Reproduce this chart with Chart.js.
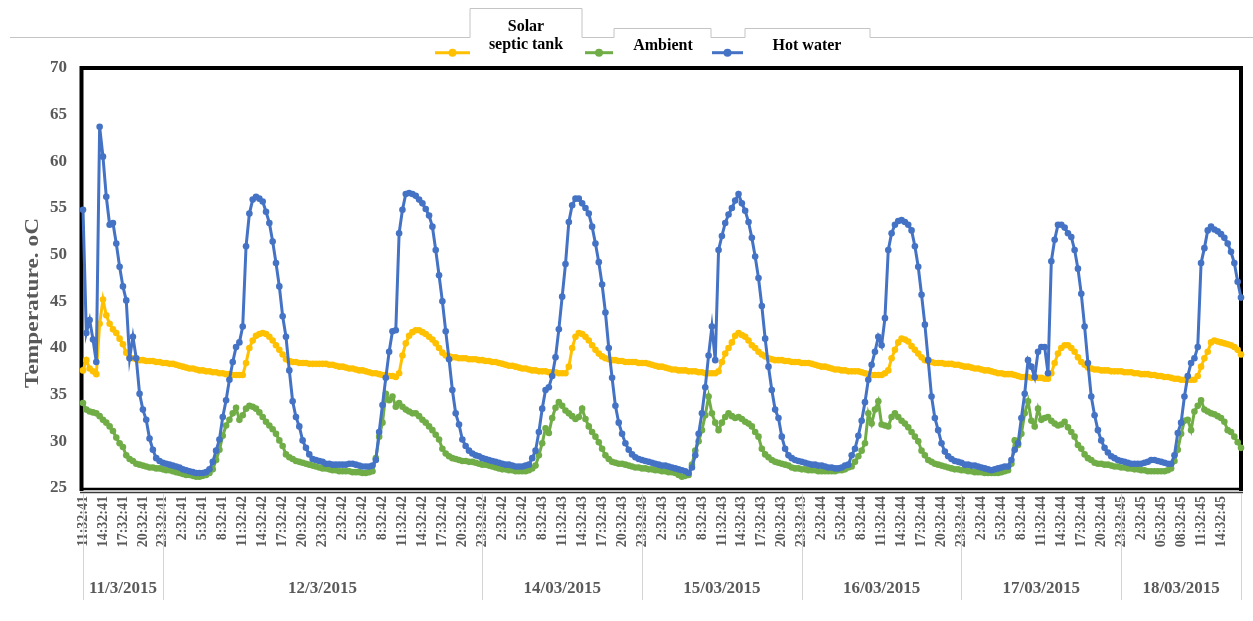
<!DOCTYPE html>
<html><head><meta charset="utf-8">
<script src="https://cdn.jsdelivr.net/npm/chart.js@4.4.1/dist/chart.umd.min.js"></script>
<style>html,body{margin:0;padding:0;background:#fff;}canvas{display:block;}</style>
</head><body>
<canvas id="c" width="1253" height="621"></canvas>
<script>
const seriesNames = ['Solar septic tank', 'Ambient', 'Hot water'];
const yAxisTitle = 'Temperature. oC';
const tickLabels = [
 '11:32:41','14:32:41','17:32:41','20:32:41','23:32:41','2:32:41','5:32:41','8:32:41',
 '11:32:42','14:32:42','17:32:42','20:32:42','23:32:42','2:32:42','5:32:42','8:32:42',
 '11:32:42','14:32:42','17:32:42','20:32:42','23:32:42','2:32:42','5:32:42','8:32:43',
 '11:32:43','14:32:43','17:32:43','20:32:43','23:32:43','2:32:43','5:32:43','8:32:43',
 '11:32:43','14:32:43','17:32:43','20:32:43','23:32:43','2:32:44','5:32:44','8:32:44',
 '11:32:44','14:32:44','17:32:44','20:32:44','23:32:44','2:32:44','5:32:44','8:32:44',
 '11:32:44','14:32:44','17:32:44','20:32:44','23:32:45','2:32:45','05:32:45','08:32:45',
 '11:32:45','14:32:45'
];
const dateLabels = ['11/3/2015','12/3/2015','14/03/2015','15/03/2015','16/03/2015','17/03/2015','18/03/2015'];
const dateBreaks = [0, 24, 120, 168, 216, 264, 312, 348]; // sample index where each date group starts/ends

const solarTank = [
 37.6,38.7,37.8,37.5,37.2,42.6,45.2,43.5,42.6,42.0,41.6,41.0,
 40.4,39.5,39.0,38.9,38.8,38.7,38.7,38.6,38.6,38.6,38.5,38.5,
 38.4,38.4,38.3,38.3,38.2,38.1,38.0,37.9,37.8,37.8,37.7,37.6,
 37.6,37.5,37.5,37.4,37.4,37.3,37.3,37.2,37.2,37.1,37.1,37.1,
 37.1,38.4,40.0,40.8,41.3,41.5,41.6,41.5,41.2,40.8,40.3,39.8,
 39.3,38.8,38.6,38.5,38.5,38.4,38.4,38.4,38.3,38.3,38.3,38.3,
 38.3,38.3,38.2,38.2,38.1,38.0,38.0,37.9,37.8,37.8,37.7,37.6,
 37.6,37.5,37.4,37.3,37.3,37.2,37.1,37.1,37.0,37.0,36.9,37.3,
 39.2,40.5,41.3,41.7,41.9,41.9,41.7,41.5,41.2,40.9,40.5,40.0,
 39.5,39.2,39.1,39.0,39.0,38.9,38.9,38.9,38.8,38.8,38.8,38.7,
 38.7,38.6,38.6,38.5,38.5,38.4,38.3,38.2,38.1,38.1,38.0,37.9,
 37.8,37.8,37.7,37.6,37.6,37.5,37.5,37.5,37.4,37.4,37.4,37.3,
 37.3,37.3,38.0,40.0,41.2,41.6,41.5,41.2,40.8,40.3,39.8,39.4,
 39.1,38.9,38.8,38.7,38.7,38.6,38.6,38.5,38.5,38.5,38.5,38.4,
 38.4,38.4,38.3,38.2,38.1,38.0,38.0,37.9,37.8,37.7,37.7,37.6,
 37.6,37.6,37.5,37.5,37.5,37.4,37.4,37.3,37.3,37.3,37.3,37.5,
 38.5,39.4,40.0,40.6,41.3,41.6,41.4,41.2,40.8,40.3,40.0,39.6,
 39.3,39.1,38.9,38.8,38.7,38.7,38.7,38.6,38.6,38.5,38.5,38.5,
 38.4,38.4,38.4,38.3,38.2,38.1,38.0,38.0,37.9,37.8,37.7,37.7,
 37.6,37.6,37.5,37.5,37.5,37.5,37.4,37.3,37.2,37.1,37.1,37.1,
 37.1,37.3,37.6,38.9,39.8,40.6,41.0,40.9,40.7,40.2,39.8,39.4,
 39.0,38.7,38.6,38.5,38.4,38.4,38.4,38.3,38.3,38.3,38.2,38.2,
 38.1,38.0,38.0,37.9,37.8,37.8,37.7,37.6,37.6,37.5,37.4,37.3,
 37.3,37.2,37.2,37.2,37.1,37.0,36.9,36.9,36.9,36.8,36.8,36.8,
 36.8,36.7,36.7,37.3,38.4,39.4,40.0,40.3,40.3,40.0,39.6,39.0,
 38.5,38.2,37.9,37.8,37.7,37.7,37.6,37.6,37.6,37.5,37.5,37.5,
 37.5,37.4,37.4,37.4,37.3,37.3,37.2,37.2,37.2,37.1,37.1,37.0,
 37.0,36.9,36.9,36.8,36.7,36.7,36.6,36.6,36.6,36.6,36.6,37.0,
 38.0,38.9,39.6,40.6,40.8,40.7,40.6,40.5,40.4,40.3,40.1,39.8,
 39.3
];
const ambient = [
 34.1,33.4,33.2,33.1,33.0,32.7,32.3,32.0,31.6,31.1,30.4,29.8,
 29.4,28.5,28.1,27.9,27.6,27.5,27.4,27.3,27.2,27.2,27.1,27.1,
 27.0,26.9,26.9,26.8,26.7,26.6,26.5,26.4,26.4,26.3,26.2,26.2,
 26.3,26.4,26.6,27.0,28.0,29.1,30.6,31.7,32.3,33.0,33.6,32.3,
 32.8,33.5,33.8,33.7,33.5,33.1,32.6,32.1,31.7,31.3,30.8,30.1,
 29.5,28.6,28.3,28.1,27.9,27.8,27.7,27.6,27.5,27.4,27.3,27.2,
 27.1,27.1,27.0,26.9,26.9,26.8,26.8,26.8,26.8,26.7,26.7,26.7,
 26.6,26.6,26.7,26.8,28.2,30.5,32.0,35.1,34.4,34.8,33.7,34.1,
 33.7,33.4,33.2,33.0,33.0,32.7,32.3,32.0,31.6,31.2,30.7,30.2,
 29.2,28.7,28.4,28.2,28.1,28.0,27.9,27.9,27.8,27.8,27.7,27.6,
 27.5,27.5,27.4,27.3,27.2,27.1,27.0,27.0,26.9,26.9,26.8,26.8,
 26.8,26.8,26.9,27.1,27.4,28.5,29.8,31.4,30.9,32.5,33.6,34.2,
 33.8,33.3,33.0,32.7,32.4,32.6,33.5,32.4,31.6,31.0,30.5,29.9,
 29.2,28.5,28.1,27.8,27.7,27.6,27.6,27.5,27.4,27.3,27.2,27.2,
 27.1,27.1,27.0,27.0,26.9,26.9,26.8,26.8,26.7,26.7,26.6,26.4,
 26.2,26.3,26.4,27.5,29.0,30.0,31.2,32.8,34.8,33.0,32.0,31.2,
 32.0,32.6,33.0,32.7,32.5,32.6,32.4,32.1,31.9,31.6,31.0,30.5,
 29.2,28.6,28.3,28.0,27.8,27.7,27.6,27.5,27.4,27.2,27.1,27.1,
 27.0,27.0,26.9,26.9,26.9,26.8,26.8,26.8,26.8,26.8,26.8,26.9,
 26.9,27.0,27.2,27.3,27.8,28.4,29.0,29.8,33.0,31.9,33.4,34.3,
 31.8,31.7,31.6,32.6,33.0,32.6,32.2,31.9,31.5,31.0,30.5,30.0,
 29.0,28.5,28.0,27.8,27.6,27.5,27.4,27.3,27.2,27.1,27.0,27.0,
 26.9,26.9,26.8,26.8,26.7,26.7,26.7,26.6,26.6,26.6,26.6,26.6,
 26.7,26.8,26.9,27.6,30.1,29.6,30.8,33.0,34.3,32.2,31.6,33.5,
 32.3,32.5,32.6,32.2,31.9,31.7,31.8,32.1,31.5,31.0,30.5,29.6,
 29.2,28.6,28.2,28.0,27.7,27.6,27.6,27.5,27.5,27.4,27.3,27.3,
 27.2,27.2,27.1,27.1,27.0,27.0,26.9,26.9,26.8,26.8,26.8,26.8,
 26.8,26.8,26.9,27.1,27.9,29.1,30.8,32.2,32.3,31.2,33.2,33.8,
 34.4,33.4,33.2,33.0,32.9,32.7,32.5,32.1,31.2,31.0,30.5,29.9,
 29.3
];
const hotWater = [
 54.8,41.6,43.0,40.9,38.5,63.7,60.5,56.2,53.2,53.4,51.2,48.7,
 46.6,45.1,38.9,41.2,38.9,35.1,33.4,32.3,30.3,29.1,28.2,27.9,
 27.7,27.6,27.5,27.4,27.3,27.2,27.0,26.9,26.8,26.7,26.6,26.6,
 26.6,26.7,27.0,27.8,29.0,30.2,32.6,34.4,36.6,38.5,40.1,40.6,
 42.3,50.9,54.4,55.9,56.2,56.0,55.7,54.6,53.4,51.4,49.1,46.6,
 43.4,41.2,37.6,34.3,32.6,31.6,30.1,29.3,28.6,28.1,28.0,27.9,
 27.8,27.6,27.6,27.5,27.5,27.5,27.5,27.5,27.6,27.6,27.5,27.4,
 27.3,27.3,27.3,27.4,28.0,31.0,33.9,36.8,39.6,41.8,41.9,52.3,
 54.8,56.5,56.6,56.5,56.3,55.9,55.5,54.9,54.2,53.0,50.5,47.8,
 45.0,41.8,38.8,35.5,33.0,31.8,30.2,29.5,29.0,28.7,28.5,28.4,
 28.2,28.1,28.0,27.9,27.8,27.7,27.6,27.5,27.5,27.4,27.3,27.3,
 27.3,27.4,27.5,28.2,29.0,31.0,33.5,35.5,35.8,37.0,39.0,42.0,
 45.5,49.0,53.5,55.3,56.0,56.0,55.5,55.0,54.4,53.0,51.2,49.2,
 46.8,43.8,40.0,36.8,33.8,32.0,30.8,29.8,29.1,28.6,28.3,28.1,
 28.0,27.9,27.8,27.7,27.6,27.5,27.4,27.4,27.3,27.2,27.1,27.0,
 26.9,26.8,26.6,27.2,28.5,30.8,33.0,35.8,39.2,42.3,38.7,50.5,
 52.0,53.4,54.3,55.0,55.8,56.5,55.5,54.7,53.5,51.8,49.8,47.5,
 44.5,41.0,38.0,35.5,33.4,32.5,30.5,29.2,28.5,28.2,28.0,27.9,
 27.8,27.7,27.6,27.5,27.5,27.4,27.4,27.3,27.2,27.2,27.1,27.1,
 27.2,27.4,27.5,28.5,29.2,30.6,32.2,34.2,36.6,38.2,39.6,41.2,
 40.3,43.2,50.5,52.3,53.2,53.6,53.7,53.5,53.2,52.6,50.9,48.7,
 45.7,42.5,38.7,34.8,32.5,31.2,29.8,28.9,28.4,28.1,27.9,27.8,
 27.7,27.5,27.5,27.4,27.4,27.3,27.2,27.1,27.0,26.9,27.0,27.1,
 27.2,27.3,27.3,28.0,29.1,29.8,32.5,35.1,38.7,38.0,36.9,39.6,
 40.1,40.1,37.3,49.3,51.6,53.2,53.2,52.9,52.3,51.9,50.5,48.5,
 45.8,42.3,38.4,34.8,32.8,31.2,30.1,29.3,28.8,28.4,28.2,28.0,
 27.9,27.8,27.7,27.6,27.6,27.6,27.6,27.7,27.8,28.0,28.0,27.9,
 27.8,27.7,27.6,27.6,28.5,30.9,32.0,34.8,37.0,38.4,38.9,40.1,
 49.1,50.7,52.6,53.0,52.7,52.5,52.2,51.8,51.2,50.3,49.1,47.1,
 45.4
];

const LABEL_EVERY = 6; // one tick label every 6 half-hour samples
const categories = hotWater.map((_, k) => k % LABEL_EVERY === 0 ? (tickLabels[k / LABEL_EVERY] || '') : '');

const SERIF = "'Liberation Serif','Times New Roman',serif";
const COLORS = ['#FFC000', '#70AD47', '#4472C4'];

function ds(i, data, order) {
  return {
    label: seriesNames[i], data, order,
    borderColor: COLORS[i], backgroundColor: COLORS[i],
    pointBackgroundColor: COLORS[i], pointBorderColor: COLORS[i],
    pointRadius: 3.3, pointBorderWidth: 0, borderWidth: 3, tension: 0, clip: false
  };
}

const decor = {
  id: 'decor',
  beforeDatasetsDraw(chart) {
    const {ctx, chartArea: a} = chart;
    ctx.save();
    ctx.strokeStyle = '#000';
    ctx.lineWidth = 4;
    ctx.beginPath();
    ctx.moveTo(a.left - 1.5, a.bottom + 3);
    ctx.lineTo(a.left - 1.5, a.top);
    ctx.lineTo(a.right, a.top);
    ctx.lineTo(a.right, a.bottom + 3);
    ctx.stroke();
    ctx.lineWidth = 2.5;
    ctx.beginPath(); ctx.moveTo(a.left - 3, a.bottom + 1); ctx.lineTo(a.right + 2, a.bottom + 1); ctx.stroke();
    ctx.strokeStyle = '#3a3a3a'; ctx.lineWidth = 1.5;
    ctx.beginPath(); ctx.moveTo(a.left - 3, a.bottom + 4.5); ctx.lineTo(a.right + 2, a.bottom + 4.5); ctx.stroke();
    ctx.restore();
  },
  afterDraw(chart) {
    const {ctx, chartArea: a, scales: {x}} = chart;
    ctx.save();
    // date group separators and labels
    ctx.strokeStyle = '#d4d4d4'; ctx.lineWidth = 1;
    dateBreaks.forEach(k => {
      const px = Math.round(x.getPixelForValue(k)) + 0.5;
      ctx.beginPath(); ctx.moveTo(px, a.bottom + 6); ctx.lineTo(px, 600); ctx.stroke();
    });
    ctx.fillStyle = '#595959';
    ctx.font = 'bold 17px ' + SERIF;
    ctx.textAlign = 'center'; ctx.textBaseline = 'middle';
    dateLabels.forEach((t, i) => {
      const cx = (x.getPixelForValue(dateBreaks[i]) + x.getPixelForValue(dateBreaks[i + 1])) / 2;
      ctx.fillText(t, cx, 589);
    });
    // y axis title
    ctx.save();
    ctx.translate(33, 303);
    ctx.rotate(-Math.PI / 2);
    ctx.font = 'bold 18px ' + SERIF;
    const w = ctx.measureText(yAxisTitle).width;
    ctx.scale(170 / w, 1);
    ctx.fillStyle = '#595959';
    ctx.fillText(yAxisTitle, 0, 0);
    ctx.restore();
    // legend frame outline
    ctx.strokeStyle = '#c4c4c4'; ctx.lineWidth = 1;
    ctx.beginPath();
    [[10,37],[470,37],[470,8],[582,8],[582,37],[614,37],[614,28],[711,28],[711,37],[745,37],[745,28],[870,28],[870,37],[1253,37]]
      .forEach((p, i) => i ? ctx.lineTo(p[0], p[1] + 0.5) : ctx.moveTo(p[0], p[1] + 0.5));
    ctx.stroke();
    // legend entries
    const items = [
      {c: COLORS[0], x0: 435, x1: 470, lines: ['Solar', 'septic tank'], tx: 526, ty: [27, 44.5]},
      {c: COLORS[1], x0: 585, x1: 613, lines: [seriesNames[1]], tx: 663, ty: [45.5]},
      {c: COLORS[2], x0: 712, x1: 743, lines: [seriesNames[2]], tx: 807, ty: [45.5]}
    ];
    items.forEach(it => {
      ctx.strokeStyle = it.c; ctx.fillStyle = it.c; ctx.lineWidth = 3;
      ctx.beginPath(); ctx.moveTo(it.x0, 52.7); ctx.lineTo(it.x1, 52.7); ctx.stroke();
      ctx.beginPath(); ctx.arc((it.x0 + it.x1) / 2, 52.7, 4, 0, Math.PI * 2); ctx.fill();
      ctx.fillStyle = '#000'; ctx.font = 'bold 16px ' + SERIF;
      it.lines.forEach((l, j) => ctx.fillText(l, it.tx, it.ty[j]));
    });
    ctx.restore();
  }
};

new Chart(document.getElementById('c'), {
  type: 'line',
  data: {
    labels: categories,
    datasets: [ds(0, solarTank, 3), ds(1, ambient, 2), ds(2, hotWater, 1)]
  },
  options: {
    responsive: false, animation: false, devicePixelRatio: 1,
    layout: {padding: {top: 68, right: 12, bottom: 0, left: 0}},
    plugins: {legend: {display: false}, tooltip: {enabled: false}},
    scales: {
      x: {
        type: 'category',
        grid: {display: false, drawTicks: false}, border: {display: false},
        ticks: {autoSkip: false, minRotation: 90, maxRotation: 90, padding: 8,
          color: '#595959', font: {family: SERIF, size: 14, weight: 'bold'}},
        afterFit(s) { s.height = 133; s.paddingLeft = 0; s.paddingRight = 0; }
      },
      y: {
        min: 25, max: 70,
        grid: {display: false, drawTicks: false}, border: {display: false},
        ticks: {stepSize: 5, padding: 16, color: '#595959', font: {family: SERIF, size: 17, weight: 'bold'}},
        afterFit(s) { s.width = 83; s.paddingTop = 0; s.paddingBottom = 0; }
      }
    }
  },
  plugins: [decor]
});
</script>
</body></html>
